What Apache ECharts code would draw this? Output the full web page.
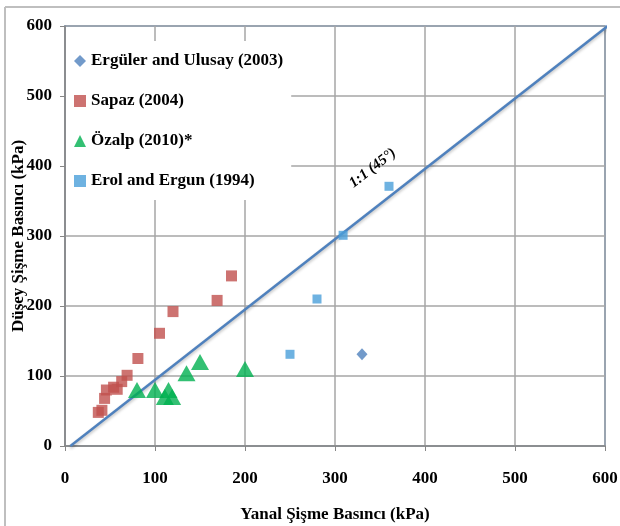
<!DOCTYPE html>
<html>
<head>
<meta charset="utf-8">
<script src="https://cdn.jsdelivr.net/npm/echarts@6/dist/echarts.min.js"></script>
<style>html,body{margin:0;padding:0;background:#fff;}#c{width:620px;height:526px;}</style>
</head>
<body>
<div id="c"></div>
<script>
// Data
var seriesNames = ['Ergüler and Ulusay (2003)', 'Sapaz (2004)', 'Özalp (2010)*', 'Erol and Ergun (1994)'];
var erguler = [[330, 131]];
var sapaz = [[37, 48], [41, 51], [44, 68], [46, 80], [54, 84], [58, 81], [63, 92], [69, 101], [81, 125], [105, 161], [120, 192], [169, 208], [185, 243]];
var ozalp = [[80, 80], [100, 80], [111, 70], [115, 80], [119, 70], [135, 104], [150, 120], [200, 110]];
var erol = [[250, 131], [280, 210], [309, 301], [360, 371]];
var oneToOne = [[6, 0], [604, 601]];
var lineLabel = '1:1 (45°)';
var xTitle = 'Yanal Şişme Basıncı (kPa)';
var yTitle = 'Düşey Şişme Basıncı (kPa)';

var serif = '"Liberation Serif", "Times New Roman", serif';
var chart = echarts.init(document.getElementById('c'), null, {renderer: 'canvas'});
var axisLabelStyle = {color: '#000', fontFamily: serif, fontWeight: 'bold', fontSize: 17};
chart.setOption({
  animation: false,
  backgroundColor: '#fff',
  grid: {left: 65, right: 15, top: 26, bottom: 80, containLabel: false, outerBoundsMode: 'none', show: true, borderColor: '#4F81BD', borderWidth: 1.5, backgroundColor: 'transparent'},
  graphic: [
    {type: 'line', shape: {x1: 5, y1: 7, x2: 620, y2: 7}, style: {stroke: '#BFBFBF', lineWidth: 2}, silent: true},
    {type: 'line', shape: {x1: 5, y1: 7, x2: 5, y2: 526}, style: {stroke: '#BFBFBF', lineWidth: 2}, silent: true}
  ],
  legend: {
    data: seriesNames,
    orient: 'vertical',
    left: 66, top: 41,
    padding: [10, 8, 9, 8],
    itemWidth: 12, itemHeight: 12,
    itemGap: 20,
    backgroundColor: '#fff',
    textStyle: {color: '#000', fontFamily: serif, fontWeight: 'bold', fontSize: 17, lineHeight: 20},
    selectedMode: false
  },
  xAxis: {
    type: 'value', min: 0, max: 600, interval: 100,
    name: xTitle, nameLocation: 'middle', nameGap: 60, nameMoveOverlap: false,
    nameTextStyle: {color: '#000', fontFamily: serif, fontWeight: 'bold', fontSize: 17},
    axisLine: {show: true, lineStyle: {color: '#868686', width: 1.5}},
    axisTick: {show: true, length: 5, lineStyle: {color: '#868686'}},
    axisLabel: Object.assign({margin: 24}, axisLabelStyle),
    splitLine: {show: true, lineStyle: {color: '#A6A6A6', width: 1.5}}
  },
  yAxis: {
    type: 'value', min: 0, max: 600, interval: 100,
    name: yTitle, nameLocation: 'middle', nameGap: 38, nameRotate: 90, nameMoveOverlap: false,
    nameTextStyle: {color: '#000', fontFamily: serif, fontWeight: 'bold', fontSize: 17},
    axisLine: {show: true, lineStyle: {color: '#868686', width: 1.5}},
    axisTick: {show: true, length: 5, lineStyle: {color: '#868686'}},
    axisLabel: Object.assign({margin: 13}, axisLabelStyle),
    splitLine: {show: true, lineStyle: {color: '#A6A6A6', width: 1.5}}
  },
  series: [
    {
      name: '1:1', type: 'line', data: oneToOne, symbol: 'none', clip: false, silent: true,
      lineStyle: {color: '#4F81BD', width: 2.5, shadowColor: 'rgba(0,0,0,0.25)', shadowBlur: 3, shadowOffsetY: 2},
      markPoint: {
        symbol: 'circle', symbolSize: 0, silent: true,
        data: [{coord: [342, 397], value: lineLabel}],
        label: {show: true, position: 'inside', formatter: lineLabel, rotate: 38, color: '#000', fontFamily: serif, fontWeight: 'bold', fontStyle: 'italic', fontSize: 15}
      },
      z: 3
    },
    {name: seriesNames[0], type: 'scatter', data: erguler, symbol: 'diamond', symbolSize: [11, 12], itemStyle: {color: '#4F81BD'}, z: 4},
    {name: seriesNames[1], type: 'scatter', data: sapaz, symbol: 'rect', symbolSize: 11, itemStyle: {color: '#C0504D'}, z: 4},
    {name: seriesNames[2], type: 'scatter', data: ozalp, symbol: 'triangle', symbolSize: [18, 16], itemStyle: {color: '#00B050'}, z: 4},
    {name: seriesNames[3], type: 'scatter', data: erol, symbol: 'rect', symbolSize: 9, itemStyle: {color: '#4A9FD9'}, z: 4}
  ]
});
</script>
</body>
</html>
